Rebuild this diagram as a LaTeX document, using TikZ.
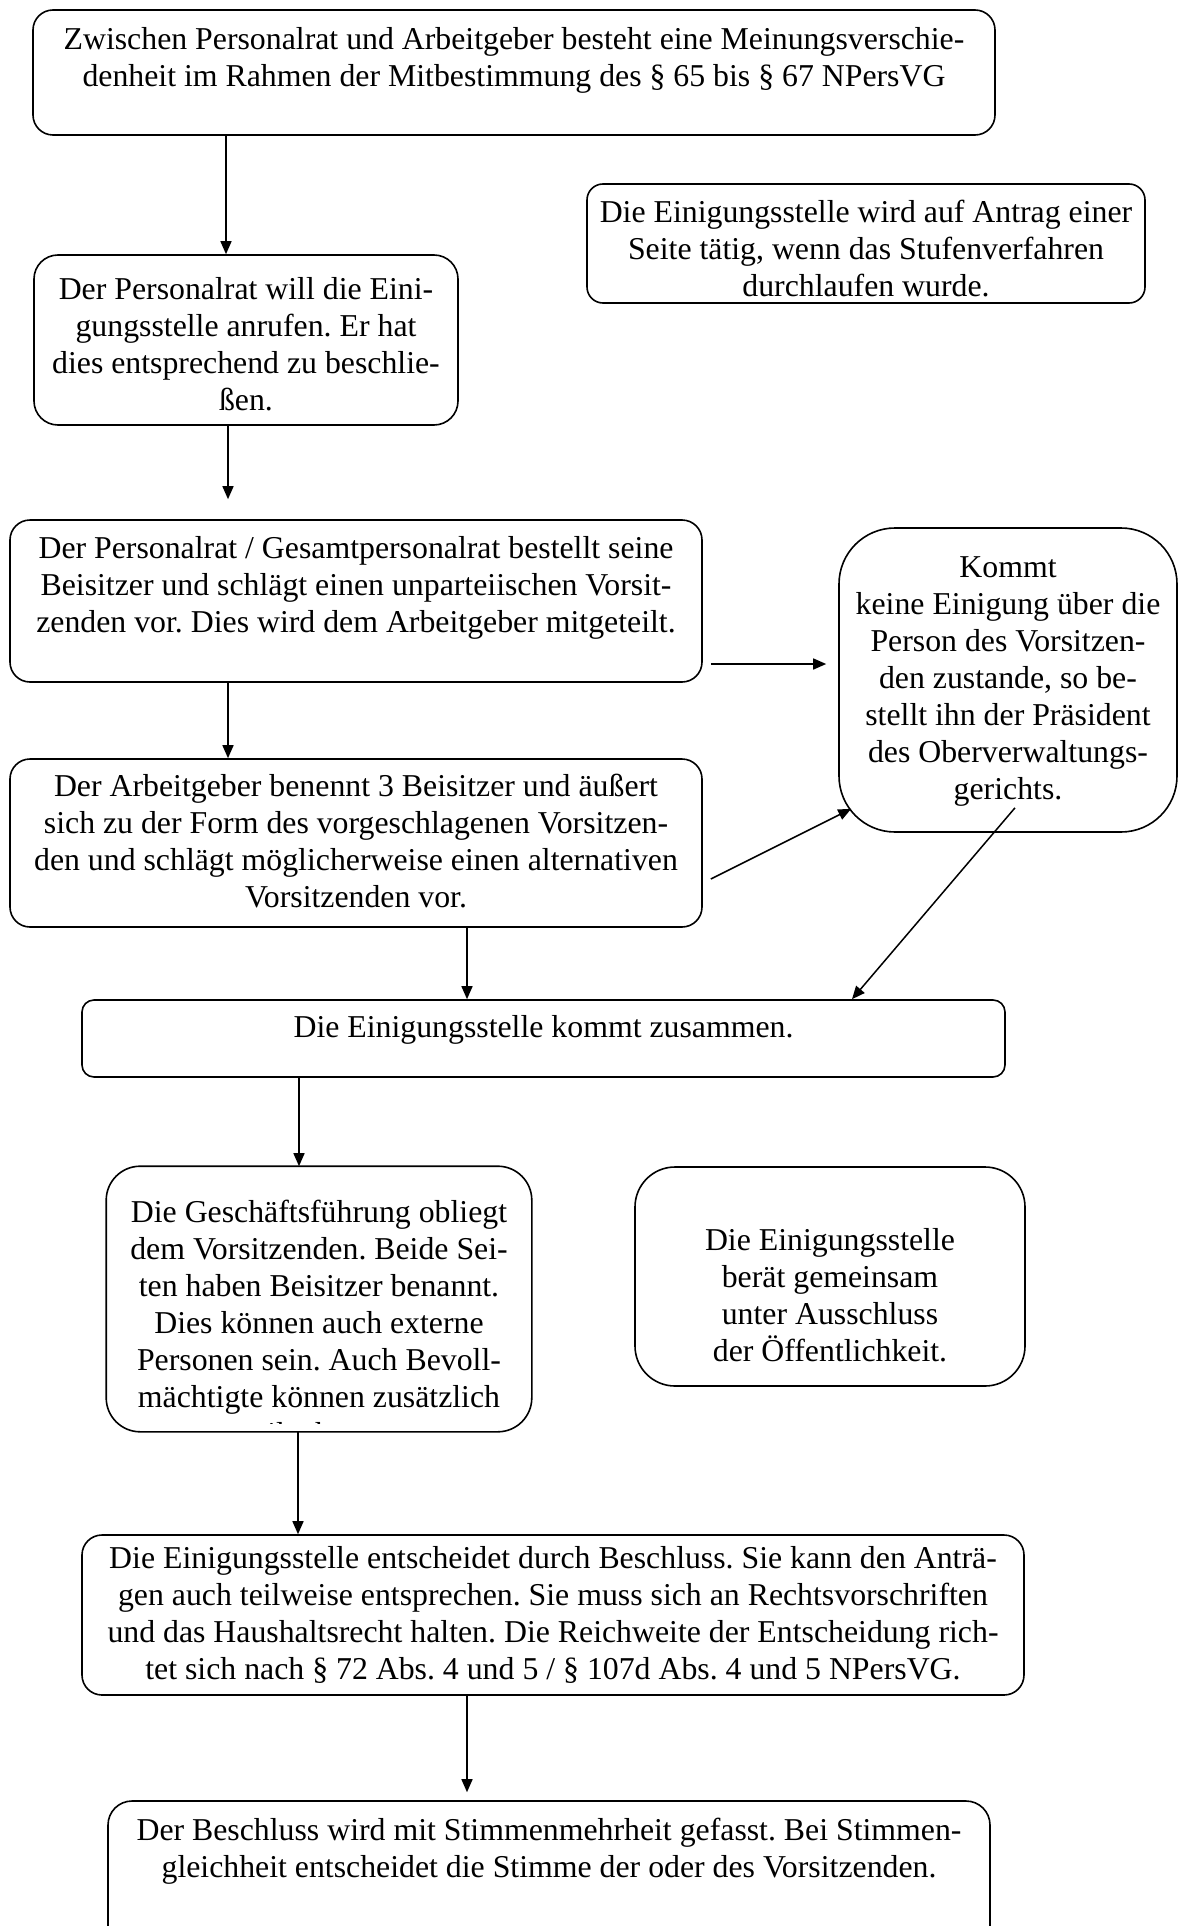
\documentclass[tikz,border=0pt]{standalone}
\usepackage{fontspec}
\setmainfont{Liberation Serif}
\usepackage{tikz}
\usetikzlibrary{shapes,arrows.meta,positioning}
\tikzstyle{stufe}=[draw, inner sep=0pt, line width=0.8pt]
\tikzstyle{pfeil}=[-{Triangle[length=6.5pt,width=5.5pt]}, line width=0.75pt]
\newcommand{\feld}[4]{\parbox[c][#2][t]{#1}{\centering\vspace*{#3}\strut #4}}

\begin{document}
\frenchspacing
\begin{tikzpicture}[x=0.5pt,y=-0.5pt,font=\fontsize{15.9}{18.5}\selectfont]
\useasboundingbox (0,0) rectangle (1179,1926);
\clip (0,0) rectangle (1179,1926);

% Ausgangslage
\node (streit) [stufe,rounded corners=10pt] at (514,72.5) {\feld{481pt}{62.5pt}{7pt}{Zwischen Personalrat und Arbeitgeber besteht eine Meinungsverschie-\\denheit im Rahmen der Mitbestimmung des § 65 bis § 67 NPersVG}};
\node (antrag) [stufe,rounded corners=8pt] at (866,243.5) {\feld{279pt}{59.5pt}{6.5pt}{Die Einigungsstelle wird auf Antrag einer\\Seite tätig, wenn das Stufenverfahren\\durchlaufen wurde.}};

% Personalrat
\node (prBeschluss) [stufe,rounded corners=12pt] at (246,340) {\feld{212pt}{85pt}{9.5pt}{Der Personalrat will die Eini-\\gungsstelle anrufen. Er hat\\dies entsprechend zu beschlie-\\ßen.}};
\node (prBeisitzer) [stufe,rounded corners=10pt] at (356,601) {\feld{346pt}{81pt}{6.5pt}{Der Personalrat / Gesamtpersonalrat bestellt seine\\Beisitzer und schlägt einen unparteiischen Vorsit-\\zenden vor. Dies wird dem Arbeitgeber mitgeteilt.}};
\node (ovg) [stufe,rounded corners=28pt] at (1008,680) {\feld{169pt}{152pt}{12pt}{Kommt\\keine Einigung über die\\Person des Vorsitzen-\\den zustande, so be-\\stellt ihn der Präsident\\des Oberverwaltungs-\\gerichts.}};

% Arbeitgeber
\node (agBeisitzer) [stufe,rounded corners=10pt] at (356,843) {\feld{346pt}{84pt}{6pt}{Der Arbeitgeber benennt 3 Beisitzer und äußert\\sich zu der Form des vorgeschlagenen Vorsitzen-\\den und schlägt möglicherweise einen alternativen\\Vorsitzenden vor.}};

% Einigungsstelle
\node (tagung) [stufe,rounded corners=6pt] at (543.5,1038.5) {\feld{461.5pt}{38.5pt}{6pt}{Die Einigungsstelle kommt zusammen.}};
\begin{scope}
\clip (100,1160) rectangle (540,1423);
\node (gf) [stufe,draw=none] at (319,1299) {\feld{212pt}{132pt}{15pt}{Die Geschäftsführung obliegt\\dem Vorsitzenden. Beide Sei-\\ten haben Beisitzer benannt.\\Dies können auch externe\\Personen sein. Auch Bevoll-\\mächtigte können zusätzlich\\teilnehmen.}};
\end{scope}
\draw [line width=0.8pt,rounded corners=17pt] (gf.north west) rectangle (gf.south east);
\node (beratung) [stufe,rounded corners=20pt] at (830,1276.5) {\feld{195pt}{109.5pt}{29pt}{Die Einigungsstelle\\berät gemeinsam\\unter Ausschluss\\der Öffentlichkeit.}};

% Entscheidung
\node (beschluss) [stufe,rounded corners=10pt] at (553,1615) {\feld{471pt}{80pt}{4pt}{Die Einigungsstelle entscheidet durch Beschluss. Sie kann den Anträ-\\gen auch teilweise entsprechen. Sie muss sich an Rechtsvorschriften\\und das Haushaltsrecht halten. Die Reichweite der Entscheidung rich-\\tet sich nach § 72 Abs. 4 und 5 / § 107d Abs. 4 und 5 NPersVG.}};
\node (mehrheit) [stufe,rounded corners=12pt] at (549,1880) {\feld{441pt}{79pt}{7pt}{Der Beschluss wird mit Stimmenmehrheit gefasst. Bei Stimmen-\\gleichheit entscheidet die Stimme der oder des Vorsitzenden.}};

% Pfeile
\draw [pfeil] ([xshift=-144pt]streit.south) -- ([xshift=-10pt]prBeschluss.north);
\draw [pfeil] ([xshift=-9pt]prBeschluss.south) -- ([xshift=-64pt,yshift=10pt]prBeisitzer.north);
\draw [pfeil] ([xshift=-64pt]prBeisitzer.south) -- ([xshift=-64pt]agBeisitzer.north);
\draw [pfeil] ([xshift=4pt,yshift=-31.5pt]prBeisitzer.east) -- ([xshift=-6pt,yshift=-31.5pt]prBeisitzer.east -| ovg.west);
\draw [pfeil] ([xshift=4pt,yshift=-18pt]agBeisitzer.east) -- ([xshift=6.5pt,yshift=12pt]ovg.south west);
\draw [pfeil] ([xshift=55.5pt]agBeisitzer.south) -- ([xshift=-38.25pt]tagung.north);
\draw [pfeil] ([xshift=3.5pt,yshift=12.5pt]ovg.south) -- ([xshift=154.25pt]tagung.north);
\draw [pfeil] ([xshift=-122.25pt]tagung.south) -- ([xshift=-10pt]gf.north);
\draw [pfeil] ([xshift=-10.5pt]gf.south) -- ([xshift=-127.5pt]beschluss.north);
\draw [pfeil] ([xshift=-43pt]beschluss.south) -- ([xshift=-41pt,yshift=4pt]mehrheit.north);

\end{tikzpicture}
\end{document}
